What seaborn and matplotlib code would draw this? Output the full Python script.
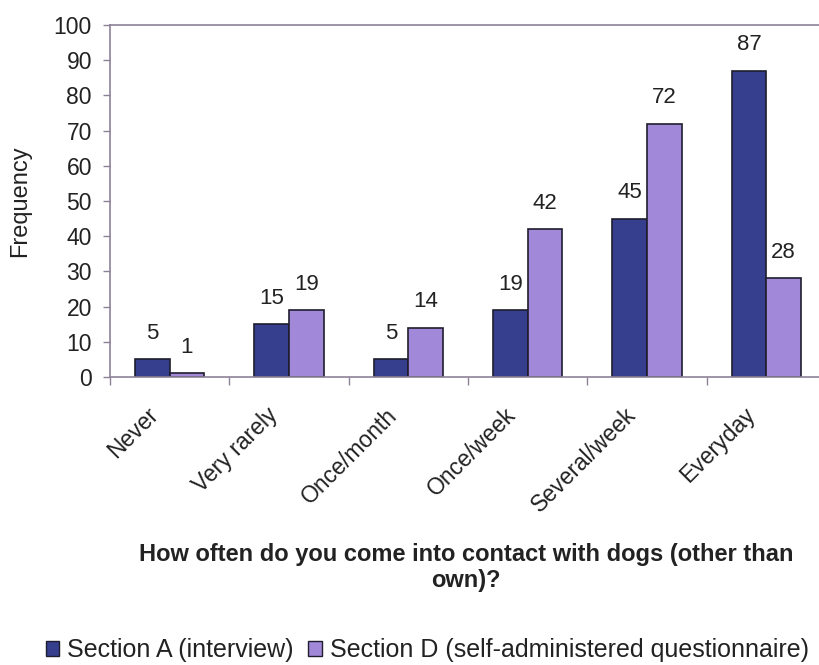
import matplotlib
matplotlib.use("Agg")
import matplotlib.pyplot as plt
from matplotlib.transforms import ScaledTranslation
from matplotlib.patches import Patch
import seaborn as sns
import pandas as pd
import numpy as np

categories = ["Never", "Very rarely", "Once/month", "Once/week", "Several/week", "Everyday"]
section_a = [5, 15, 5, 19, 45, 87]
section_d = [1, 19, 14, 42, 72, 28]
series_names = ["Section A (interview)", "Section D (self-administered questionnaire)"]
yticks = list(range(0, 101, 10))

df = pd.DataFrame({
    "category": categories * 2,
    "value": section_a + section_d,
    "series": [series_names[0]] * len(categories) + [series_names[1]] * len(categories),
})

sns.set_theme(style="white")
plt.rcParams["font.family"] = ["Liberation Sans", "DejaVu Sans"]

navy = "#353F8E"
lavender = "#A288D8"
edge = "#1E1E2E"
spine_col = "#8C8298"
text_col = "#222222"

W, H = 819, 665
fig = plt.figure(figsize=(W / 100, H / 100), dpi=100)
ax = fig.add_axes([110 / W, 1 - 377 / H, 716 / W, 352 / H])

sns.barplot(data=df, x="category", y="value", hue="series", order=categories,
            hue_order=series_names, palette=[navy, lavender], width=0.58, gap=0,
            edgecolor=edge, linewidth=1.2, saturation=1, legend=False, ax=ax)

for container in ax.containers:
    ax.bar_label(container, fmt="%d", padding=11, fontsize=16, color=text_col)

ax.set_xlim(-0.5, len(categories) - 0.5)
ax.set_ylim(0, 100)
ax.set_yticks(yticks)
ax.tick_params(axis="y", labelsize=16.5, length=5, width=1, color=spine_col,
               labelcolor=text_col, direction="out", left=True, pad=8)

# category labels at group centres, separator ticks between groups
ax.set_xticks(range(len(categories)))
ax.set_xticklabels(categories, rotation=45, ha="right", va="top", rotation_mode="anchor",
                   fontsize=16.5, color=text_col)
ax.tick_params(axis="x", length=0, pad=19)
shift = ScaledTranslation(-23 / 100, 0, fig.dpi_scale_trans)
for lbl in ax.get_xticklabels():
    lbl.set_transform(lbl.get_transform() + shift)
ax.set_xticks(np.arange(-0.5, len(categories), 1.0), minor=True)
ax.tick_params(axis="x", which="minor", length=6, width=1, color=spine_col,
               direction="out", bottom=True)

for s in ax.spines.values():
    s.set_color(spine_col)
    s.set_linewidth(1.2)

ax.set_xlabel("")
ax.set_ylabel("")
fig.text(20 / W, 1 - 201 / H, "Frequency", rotation=90, ha="center", va="center",
         fontsize=17, color=text_col)
fig.text(466 / W, 1 - 543 / H,
         "How often do you come into contact with dogs (other than\nown)?",
         ha="center", va="top", fontsize=17, fontweight="bold", color=text_col,
         linespacing=1.15)

handles = [Patch(facecolor=navy, edgecolor=edge), Patch(facecolor=lavender, edgecolor=edge)]
fig.legend(handles, series_names, loc="center", bbox_to_anchor=(427 / W, 1 - 650 / H),
           ncol=2, frameon=False, prop={"size": 18},
           handlelength=0.55, handleheight=0.55, handletextpad=0.3, columnspacing=0.6,
           labelcolor=text_col)

fig.savefig("out.png", dpi=100, facecolor="white")
